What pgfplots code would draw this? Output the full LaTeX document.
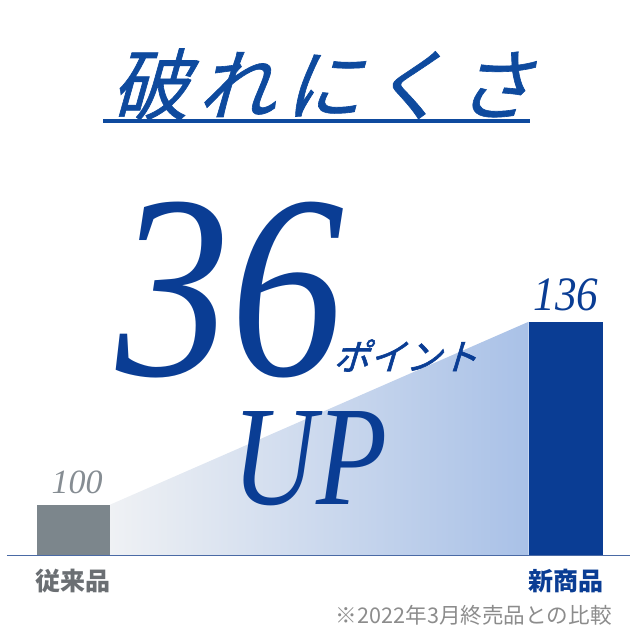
\documentclass[border=0pt]{standalone}
\usepackage{fontspec}
\usepackage{graphicx}
\usepackage{pgfplots}
\pgfplotsset{compat=1.18}
\setmainfont{Liberation Serif}
\newfontfamily\jp{Noto Sans CJK JP}
\newfontfamily\jptitle[FakeSlant=0.28,LetterSpace=11,FakeBold=0.8]{Noto Sans CJK JP}
\newfontfamily\jpslant[FakeSlant=0.3,FakeBold=1.6]{Noto Sans CJK JP}

\definecolor{titleblue}{HTML}{0E4A9E}
\definecolor{barblue}{HTML}{0A3D94}
\definecolor{graybar}{HTML}{7C868C}
\definecolor{baseblue}{HTML}{4A6AA5}
\definecolor{gradL}{HTML}{EFF1F4}
\definecolor{gradR}{HTML}{A9C1E7}
\definecolor{labelgray}{HTML}{6B6F73}
\definecolor{notegray}{HTML}{8C8C8C}
\definecolor{numgray}{HTML}{868D93}

\begin{document}
\begin{tikzpicture}
\useasboundingbox (0,0) rectangle (320pt,320pt);
\begin{axis}[
  at={(3.5pt,42.25pt)}, anchor=south west,
  scale only axis,
  width=311.5pt, height=254pt,
  xmin=-0.135, xmax=1.130,
  ymin=90, ymax=190,
  axis y line=none,
  axis x line*=bottom,
  x axis line style={-, color=baseblue, line width=0.8pt},
  xtick={0,1},
  xticklabels={\textcolor{labelgray}{従来品},\textcolor{barblue}{新商品}},
  xticklabel style={font=\jp\bfseries\fontsize{12.5pt}{14pt}\selectfont, anchor=base, yshift=-17.5pt},
  major tick length=0pt,
  ytick=\empty,
  axis on top,
]
% gradient band between the two bar tops
\addplot[draw=none, left color=gradL, right color=gradR]
  coordinates {(0.0741,90) (0.0741,100) (0.9239,136) (0.9239,90)} -- cycle;
\addplot[ybar, bar shift=0pt, bar width=0.149, fill=graybar, draw=none]
  coordinates {(0,100)};
\addplot[ybar, bar shift=0pt, bar width=0.149, fill=barblue, draw=none]
  coordinates {(1,136)};
\end{axis}

% title
\node[anchor=base, text=titleblue, inner sep=0pt] at (161pt,263pt)
  {\jptitle\fontsize{39pt}{42pt}\selectfont 破れにくさ};
\draw[titleblue, line width=2pt] (51.5pt,259.5pt) -- (265pt,259.5pt);

% headline
\node[anchor=base west, text=barblue, inner sep=0pt, text depth=0pt] at (58pt,132pt)
  {\scalebox{0.87}[1]{\fontsize{131pt}{134pt}\selectfont\itshape 36}};
\node[anchor=base west, text=barblue, inner sep=0pt] at (166.5pt,135pt)
  {\jpslant\fontsize{18pt}{20pt}\selectfont ポイント};
\node[anchor=base west, text=barblue, inner sep=0pt, text height=47pt] at (116pt,67.5pt)
  {\scalebox{0.82}[1]{\fontsize{71pt}{74pt}\selectfont\itshape UP}};

% bar values
\node[anchor=base, text=barblue, inner sep=0pt] at (283pt,164.5pt)
  {\scalebox{0.9}[1]{\fontsize{24pt}{26pt}\selectfont\itshape 136}};
\node[anchor=base, text=numgray, inner sep=0pt] at (38.5pt,73pt)
  {\fontsize{17pt}{19pt}\selectfont\itshape 100};

% footnote
\node[anchor=base east, text=notegray, inner sep=0pt] at (306pt,8.5pt)
  {\jp\fontsize{10.8pt}{12pt}\selectfont ※2022年3月終売品との比較};
\end{tikzpicture}
\end{document}
